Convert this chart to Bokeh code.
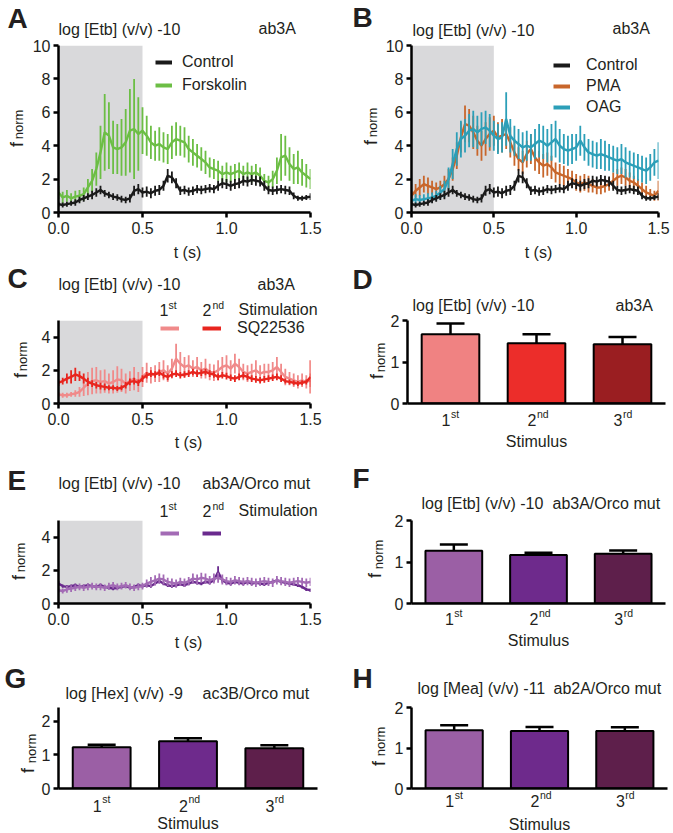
import numpy as np
from bokeh.plotting import figure
from bokeh.models import (Range1d, FixedTicker, NumeralTickFormatter, Label,
                          BoxAnnotation, Legend, Whisker, TeeHead, ColumnDataSource,
                          GridBox)
from bokeh.layouts import column, row
from bokeh.embed import file_html
from bokeh.resources import INLINE

# ---------------- data ----------------
t = np.linspace(0.0, 1.5, 61)          # time bins (s)
stim_on, stim_off = 0.0, 0.5           # odor stimulus window (s)
x_ticks = [0.0, 0.5, 1.0, 1.5]

ctrl = [0.50,0.45,0.50,0.55,0.60,0.75,0.85,0.95,1.05,1.20,
        1.35,1.15,1.05,0.95,0.90,0.80,0.75,0.85,1.30,1.40,
        1.20,1.25,1.15,1.30,1.35,1.60,2.20,2.10,1.75,1.30,
        1.35,1.25,1.30,1.40,1.35,1.40,1.45,1.40,1.60,1.75,
        1.70,1.60,1.70,1.75,1.90,1.85,1.95,1.90,1.85,1.60,
        1.35,1.30,1.35,1.40,1.35,1.30,1.00,0.85,0.85,0.90,
        0.95]
ctrl_err = [0.15,0.15,0.15,0.15,0.20,0.20,0.20,0.20,0.25,0.25,
            0.25,0.20,0.20,0.20,0.20,0.20,0.20,0.25,0.30,0.30,
            0.30,0.30,0.30,0.30,0.30,0.30,0.40,0.35,0.30,0.25,
            0.25,0.25,0.25,0.25,0.25,0.25,0.25,0.25,0.30,0.30,
            0.30,0.30,0.30,0.30,0.30,0.30,0.30,0.30,0.30,0.30,
            0.25,0.25,0.25,0.25,0.25,0.25,0.20,0.15,0.15,0.15,
            0.20]
forsk = [1.20,0.90,1.00,0.85,0.95,1.00,1.10,1.50,1.90,2.60,
         3.60,4.80,4.60,3.90,3.80,3.90,4.20,4.90,5.00,4.70,
         4.90,4.60,4.20,4.00,4.10,3.90,3.80,4.20,4.40,4.30,
         4.20,3.80,3.60,3.40,3.20,3.00,2.70,2.60,2.50,2.30,
         2.40,2.30,2.40,2.50,2.30,2.40,2.30,2.40,2.20,1.90,
         1.80,2.00,2.50,3.30,3.40,2.90,2.60,2.70,2.40,2.20,
         2.00]
forsk_err = [0.40,0.35,0.35,0.30,0.35,0.35,0.40,0.50,0.70,1.00,
             1.60,2.30,2.00,1.60,1.50,1.70,2.00,2.50,3.00,2.20,
             1.40,1.20,1.00,0.90,1.00,0.90,0.90,1.00,1.00,0.90,
             0.90,0.80,0.80,0.70,0.70,0.70,0.60,0.60,0.60,0.50,
             0.60,0.50,0.50,0.50,0.50,0.60,0.50,0.50,0.50,0.40,
             0.40,0.50,0.80,1.40,1.20,1.00,0.90,1.00,0.80,0.70,
             0.60]
pma = [1.00,1.30,1.50,1.70,1.60,1.50,1.40,1.50,1.70,2.00,
       2.60,3.40,4.50,5.30,5.20,4.80,4.30,4.00,4.40,4.70,
       4.90,4.50,4.60,4.70,4.20,3.60,3.20,3.00,3.50,3.80,
       3.30,3.00,2.80,2.90,2.70,2.40,2.30,2.20,2.10,2.00,
       1.80,1.70,1.80,1.70,1.60,1.50,1.50,1.60,1.70,1.90,
       2.10,2.20,2.10,1.90,1.80,1.60,1.40,1.20,1.10,1.00,
       1.30]
pma_err = [0.30,0.40,0.50,0.50,0.50,0.40,0.40,0.40,0.50,0.60,
           0.70,0.80,0.90,1.10,1.00,1.00,0.90,0.90,1.00,1.00,
           0.90,0.90,1.00,0.90,0.90,0.80,0.70,0.70,0.80,0.90,
           0.80,0.70,0.70,0.70,0.70,0.60,0.60,0.60,0.50,0.50,
           0.50,0.50,0.50,0.50,0.40,0.40,0.40,0.40,0.40,0.50,
           0.50,0.50,0.50,0.50,0.40,0.40,0.40,0.40,0.30,0.30,
           0.60]
oag = [0.70,0.80,0.75,0.80,0.85,0.90,1.00,1.20,1.40,2.00,
       2.90,3.80,4.40,4.60,4.90,5.00,4.80,5.00,5.10,4.90,
       4.60,4.40,4.50,5.60,4.60,4.30,4.10,3.90,4.00,3.90,
       4.10,4.30,4.20,4.00,4.20,4.40,4.00,3.80,3.70,3.80,
       3.90,4.30,3.90,3.60,3.50,3.40,3.50,3.40,3.30,3.20,
       3.10,3.20,3.00,2.90,2.80,2.70,2.60,2.50,2.70,3.00,
       3.10]
oag_err = [0.30,0.30,0.30,0.30,0.30,0.30,0.30,0.40,0.50,0.70,
           0.90,1.00,1.10,1.00,1.00,1.10,1.00,1.00,1.00,1.00,
           0.90,0.90,0.90,1.60,1.00,0.90,0.90,0.90,0.90,0.80,
           0.90,1.00,1.00,1.00,1.10,1.10,1.00,0.90,0.90,0.90,
           0.80,0.90,0.80,0.80,0.80,0.80,0.90,0.90,0.80,0.80,
           0.80,0.90,0.90,0.80,0.80,0.80,0.80,0.80,0.80,0.80,
           1.10]
c_1st = [0.55,0.50,0.50,0.55,0.60,0.70,0.95,1.20,1.35,1.40,
         1.30,1.35,1.20,1.30,1.45,1.40,1.20,1.35,1.50,1.30,
         1.60,1.85,1.70,1.80,1.90,2.00,1.80,2.10,2.70,2.40,
         2.20,2.30,2.10,2.20,2.00,2.10,1.90,1.85,2.00,2.20,
         2.30,2.10,2.40,2.20,1.90,1.80,1.90,2.00,1.80,1.90,
         1.90,2.00,2.20,1.90,1.60,1.50,1.40,1.30,1.40,1.30,
         1.40]
c_1st_err = [0.15,0.15,0.15,0.15,0.20,0.30,0.50,0.70,0.80,0.80,
             0.70,0.70,0.60,0.70,0.80,0.70,0.60,0.60,0.70,0.60,
             0.60,0.60,0.50,0.50,0.60,0.60,0.50,0.60,0.90,0.70,
             0.60,0.60,0.50,0.60,0.50,0.60,0.50,0.50,0.60,0.60,
             0.60,0.50,0.60,0.50,0.50,0.50,0.50,0.60,0.50,0.50,
             0.50,0.50,0.60,0.50,0.50,0.40,0.40,0.40,0.40,0.40,
             0.40]
c_2nd = [1.25,1.35,1.50,1.60,1.75,1.65,1.50,1.30,1.20,1.10,
         1.05,1.00,0.95,0.95,0.90,0.95,1.10,1.30,1.35,1.25,
         1.50,1.70,1.80,1.75,1.85,1.70,1.60,1.75,1.80,1.70,
         1.75,1.80,1.90,1.80,1.85,1.90,1.80,1.75,1.60,1.70,
         1.65,1.55,1.50,1.60,1.70,1.60,1.50,1.45,1.40,1.45,
         1.50,1.55,1.60,1.50,1.35,1.30,1.25,1.20,1.25,1.30,
         1.60]
c_2nd_err = [0.20,0.20,0.30,0.40,0.40,0.30,0.30,0.25,0.20,0.20,
             0.20,0.20,0.15,0.15,0.15,0.15,0.20,0.20,0.20,0.20,
             0.20,0.20,0.20,0.20,0.20,0.20,0.20,0.20,0.20,0.20,
             0.20,0.20,0.20,0.20,0.20,0.20,0.20,0.20,0.20,0.20,
             0.20,0.20,0.20,0.20,0.20,0.20,0.20,0.20,0.20,0.20,
             0.20,0.20,0.20,0.20,0.15,0.15,0.15,0.15,0.15,0.15,
             1.00]
e_1st = [0.80,0.75,0.85,0.90,0.95,1.00,0.95,1.00,1.05,1.00,
         1.00,0.95,1.05,1.10,1.00,1.05,1.10,1.00,0.95,1.00,
         1.05,1.20,1.30,1.40,1.50,1.45,1.30,1.25,1.20,1.30,
         1.25,1.35,1.50,1.45,1.55,1.50,1.40,1.50,1.55,1.45,
         1.35,1.30,1.40,1.35,1.30,1.35,1.30,1.25,1.30,1.35,
         1.30,1.25,1.40,1.35,1.30,1.25,1.30,1.35,1.30,1.25,
         1.30]
e_1st_err = [0.15,0.15,0.20,0.20,0.20,0.20,0.20,0.20,0.20,0.20,
             0.20,0.20,0.20,0.20,0.20,0.20,0.20,0.20,0.20,0.20,
             0.20,0.25,0.30,0.30,0.30,0.30,0.25,0.25,0.25,0.25,
             0.25,0.25,0.30,0.30,0.30,0.30,0.25,0.30,0.30,0.30,
             0.25,0.25,0.25,0.25,0.25,0.25,0.25,0.25,0.25,0.25,
             0.25,0.25,0.25,0.25,0.25,0.25,0.25,0.25,0.25,0.25,
             0.25]
e_2nd = [1.20,1.05,1.00,1.05,1.10,1.00,1.05,1.10,1.05,1.00,
         1.10,1.00,0.95,0.90,0.95,1.00,1.05,0.95,1.00,1.10,
         1.05,1.10,1.05,1.20,1.35,1.20,1.10,1.05,1.10,1.15,
         1.10,1.20,1.30,1.25,1.20,1.30,1.25,1.40,1.90,1.40,
         1.25,1.20,1.30,1.25,1.20,1.30,1.20,1.25,1.20,1.15,
         1.25,1.30,1.40,1.30,1.25,1.20,1.15,1.10,1.00,0.85,
         0.80]
e_2nd_err = [0.15,0.10,0.10,0.10,0.10,0.10,0.10,0.10,0.10,0.10,
             0.10,0.10,0.10,0.10,0.10,0.10,0.10,0.10,0.10,0.10,
             0.10,0.10,0.10,0.10,0.15,0.10,0.10,0.10,0.10,0.10,
             0.10,0.10,0.10,0.10,0.10,0.10,0.10,0.10,0.35,0.15,
             0.10,0.10,0.10,0.10,0.10,0.10,0.10,0.10,0.10,0.10,
             0.10,0.10,0.10,0.10,0.10,0.10,0.10,0.10,0.10,0.10,
             0.10]

stim_num = ["1", "2", "3"]
stim_sup = ["st", "nd", "rd"]
bar_yticks = [0, 1, 2]
d_mean = [1.67, 1.45, 1.43]; d_sem = [0.26, 0.22, 0.17]
f_mean = [1.27, 1.17, 1.20]; f_sem = [0.15, 0.05, 0.08]
g_mean = [1.22, 1.40, 1.19]; g_sem = [0.08, 0.09, 0.09]
h_mean = [1.44, 1.42, 1.42]; h_sem = [0.12, 0.10, 0.09]

# ---------------- style / geometry ----------------
FONT = "Liberation Sans"
TXT = "#231f20"
GRAY = "#d9d9db"
C_CTRL = "#1a1a1a"
C_FSK = "#6cbe45"
C_PMA = "#c8662b"
C_OAG = "#2c9fb8"
C_C1 = "#f08a8a"
C_C2 = "#e8251e"
C_E1 = "#a36bb5"
C_E2 = "#6a2a8e"
RED_BARS = ["#f08282", "#ec2d2a", "#9a1e21"]
PUR_BARS = ["#9b5fa5", "#6e2a8c", "#5e1f4b"]

W, H = 673, 833
# cell (x0, x1, y0, y1) and plot frame (left, right, top, bottom), page pixels
CELL = {"A": (0, 340, 0, 262), "B": (340, 673, 0, 262),
        "C": (0, 340, 262, 455), "D": (340, 673, 262, 455),
        "E": (0, 340, 455, 650), "F": (340, 673, 455, 650),
        "G": (0, 340, 650, 833), "H": (340, 673, 650, 833)}
FRAME = {"A": (58, 310, 43, 212), "B": (411, 658, 45, 212),
         "C": (58, 310, 315, 403), "D": (407, 665, 320, 404),
         "E": (58, 310, 520, 603), "F": (411, 665, 520, 604),
         "G": (58, 317, 707, 788), "H": (411, 667, 704, 789)}


def base_fig(key, xr, yr):
    cx0, cx1, cy0, cy1 = CELL[key]
    L, R, T, B = FRAME[key]
    p = figure(width=cx1 - cx0, height=cy1 - cy0, x_range=xr, y_range=yr,
               output_backend="svg", toolbar_location=None, tools="",
               min_border_left=L - cx0, min_border_right=cx1 - R,
               min_border_top=T - cy0, min_border_bottom=cy1 - B)
    p.outline_line_color = None
    p.xgrid.visible = False
    p.ygrid.visible = False
    p.background_fill_color = None
    p.border_fill_color = None
    for ax in p.axis:
        ax.axis_line_width = 2.5
        ax.axis_line_color = "black"
        ax.major_tick_line_width = 2.5
        ax.major_tick_line_color = "black"
        ax.major_tick_out = 5
        ax.major_tick_in = 0
        ax.minor_tick_line_color = None
        ax.major_label_text_font = FONT
        ax.major_label_text_font_size = "16px"
        ax.major_label_text_color = TXT
        ax.major_label_standoff = 4
    p.yaxis.major_label_standoff = 3
    return p


def trace_fig(key, ymax, yticks):
    p = base_fig(key, Range1d(0, 1.5), Range1d(0, ymax))
    p.xaxis.ticker = FixedTicker(ticks=x_ticks)
    p.xaxis.formatter = NumeralTickFormatter(format="0.0")
    p.yaxis.ticker = FixedTicker(ticks=yticks)
    p.add_layout(BoxAnnotation(left=stim_on, right=stim_off, bottom=0, top=ymax,
                               fill_color=GRAY, fill_alpha=1.0, line_color=None,
                               level="underlay"))
    return p


def draw_trace(p, y, err, color):
    y = np.array(y); err = np.array(err)
    src = ColumnDataSource(dict(t=t, y=y, lo=y - err, hi=y + err))
    p.segment(x0="t", y0="lo", x1="t", y1="hi", source=src,
              line_color=color, line_width=1.8)
    p.line("t", "y", source=src, line_color=color, line_width=2.4)
    # key swatch: a blank (NaN) line whose only job is to give the legend a thick stroke
    return p.line(x=[np.nan], y=[np.nan], line_color=color, line_width=4)


def bar_fig(key, ymax, means, sems, colors):
    p = base_fig(key, Range1d(0, len(means)), Range1d(0, ymax))
    p.xaxis.ticker = FixedTicker(ticks=[])
    p.xaxis.major_tick_out = 0
    p.yaxis.ticker = FixedTicker(ticks=bar_yticks)
    x = np.arange(len(means)) + 0.5
    m = np.array(means); s = np.array(sems)
    src = ColumnDataSource(dict(x=x, top=m, upper=m + s, color=colors))
    p.vbar(x="x", top="top", bottom=0, width=0.67, fill_color="color",
           line_color="black", line_width=2, source=src)
    p.add_layout(Whisker(source=src, base="x", upper="upper", lower="top",
                         upper_head=TeeHead(size=28, line_width=2.5, line_color="black"),
                         lower_head=None, line_width=2.5, line_color="black",
                         level="annotation"))
    return p


def legend(p, items, loc, orientation="vertical", glyph_width=17, standoff=10,
           spacing=3, label_width=20):
    lg = Legend(items=items, location=loc, orientation=orientation,
                glyph_width=glyph_width, glyph_height=20, label_height=20,
                label_width=label_width, label_standoff=standoff, spacing=spacing,
                padding=0, margin=0, border_line_color=None,
                background_fill_alpha=0.0, label_text_font=FONT,
                label_text_font_size="16px", label_text_color=TXT)
    p.add_layout(lg)


# ---------------- plots ----------------
pA = trace_fig("A", 10, [0, 2, 4, 6, 8, 10])
rA_f = draw_trace(pA, forsk, forsk_err, C_FSK)
rA_c = draw_trace(pA, ctrl, ctrl_err, C_CTRL)
legend(pA, [("Control", [rA_c]), ("Forskolin", [rA_f])], (97, 117))

pB = trace_fig("B", 10, [0, 2, 4, 6, 8, 10])
rB_p = draw_trace(pB, pma, pma_err, C_PMA)
rB_o = draw_trace(pB, oag, oag_err, C_OAG)
rB_c = draw_trace(pB, ctrl, ctrl_err, C_CTRL)
legend(pB, [("Control", [rB_c]), ("PMA", [rB_p]), ("OAG", [rB_o])], (142, 95),
       standoff=16, spacing=1)

pC = trace_fig("C", 5, [0, 2, 4])
rC_1 = draw_trace(pC, c_1st, c_1st_err, C_C1)
rC_2 = draw_trace(pC, c_2nd, c_2nd_err, C_C2)
legend(pC, [(" ", [rC_1]), ("SQ22536", [rC_2])], (102, 65),
       orientation="horizontal", glyph_width=19, standoff=16, spacing=0, label_width=7)

pD = bar_fig("D", 2, d_mean, d_sem, RED_BARS)

pE = trace_fig("E", 5, [0, 2, 4])
rE_2 = draw_trace(pE, e_2nd, e_2nd_err, C_E2)
rE_1 = draw_trace(pE, e_1st, e_1st_err, C_E1)
legend(pE, [(" ", [rE_1]), (" ", [rE_2])], (102, 60),
       orientation="horizontal", glyph_width=19, standoff=16, spacing=0, label_width=7)

pF = bar_fig("F", 2, f_mean, f_sem, PUR_BARS)
pG = bar_fig("G", 2.4, g_mean, g_sem, PUR_BARS)
pH = bar_fig("H", 2, h_mean, h_sem, PUR_BARS)

panels = column(row(pA, pB), row(pC, pD), row(pE, pF), row(pG, pH))

# ---------------- text layer (page pixel coordinates) ----------------
ov = figure(width=W, height=H, x_range=Range1d(0, W), y_range=Range1d(H, 0),
            x_axis_location=None, y_axis_location=None, output_backend="svg",
            toolbar_location=None, tools="", min_border=0, min_border_left=0,
            min_border_right=0, min_border_top=0, min_border_bottom=0)
ov.outline_line_color = None
ov.background_fill_color = None
ov.border_fill_color = None
ov.xgrid.visible = False
ov.ygrid.visible = False


def olab(text, x, y, size=16, align="left", bold=False, angle=0.0):
    ov.add_layout(Label(x=x, y=y, text=text, text_font=FONT,
                        text_font_size=f"{size}px", text_align=align,
                        text_baseline="middle",
                        text_font_style="bold" if bold else "normal",
                        text_color=TXT, angle=angle))


def fnorm(fx, fy, nx, ny):
    olab("f", fx, fy, size=18, align="center", angle=np.pi / 2)
    olab("norm", nx, ny, size=13, align="center", angle=np.pi / 2)


def stim_axis(key, y_num, y_sup, y_title):
    L, R, T, B = FRAME[key]
    step = (R - L) / len(stim_num)
    for i, (n, s) in enumerate(zip(stim_num, stim_sup)):
        c = L + (i + 0.5) * step
        olab(n, c, y_num, align="right")
        olab(s, c + 0.5, y_sup, size=10.5)
    olab("Stimulus", (L + R) / 2, y_title, align="center")


# panel letters
for txt, x, y in [("A", 7, 18), ("B", 352, 17), ("C", 7, 278), ("D", 352, 279),
                  ("E", 7, 480), ("F", 352, 478), ("G", 4, 678), ("H", 352, 678)]:
    olab(txt, x, y, size=28, bold=True)

# titles
for txt, x, y in [("log [Etb] (v/v) -10", 58, 29), ("ab3A", 258, 28),
                  ("log [Etb] (v/v) -10", 412, 30), ("ab3A", 612, 28),
                  ("log [Etb] (v/v) -10", 58, 284), ("ab3A", 257, 284),
                  ("log [Etb] (v/v) -10", 412, 305), ("ab3A", 615, 305),
                  ("log [Etb] (v/v) -10", 58, 483), ("ab3A/Orco mut", 202, 483),
                  ("log [Etb] (v/v) -10", 421, 503), ("ab3A/Orco mut", 552, 503),
                  ("log [Hex] (v/v) -9", 65, 693), ("ac3B/Orco mut", 202, 693),
                  ("log [Mea] (v/v) -11", 417, 688), ("ab2A/Orco mut", 553, 688)]:
    olab(txt, x, y)

# C / E legend headers
for y0 in (309, 510):
    olab("1", 159, y0); olab("st", 168, y0 - 5, size=10.5)
    olab("2", 202, y0); olab("nd", 212, y0 - 5, size=10.5)
    olab("Stimulation", 238, y0)

# y-axis titles f_norm
fnorm(16, 144, 18, 124)
fnorm(370, 142, 372, 122)
fnorm(20, 375, 22, 356)
fnorm(376, 376, 380, 357)
fnorm(18, 577, 20, 557)
fnorm(374, 575, 378, 554)
fnorm(27, 770, 31, 748)
fnorm(378, 763, 380, 741)

# x-axis titles
olab("t (s)", 187, 252, align="center")
olab("t (s)", 538, 252, align="center")
olab("t (s)", 188, 442, align="center")
olab("t (s)", 188, 642, align="center")

stim_axis("D", 419, 413, 441)
stim_axis("F", 618, 612, 640)
stim_axis("G", 805, 798, 823)
stim_axis("H", 800, 794, 824)

grid = GridBox(children=[(panels, 0, 0), (ov, 0, 0)])
open("out.html", "w").write(file_html(grid, INLINE, title="fnorm panels"))
